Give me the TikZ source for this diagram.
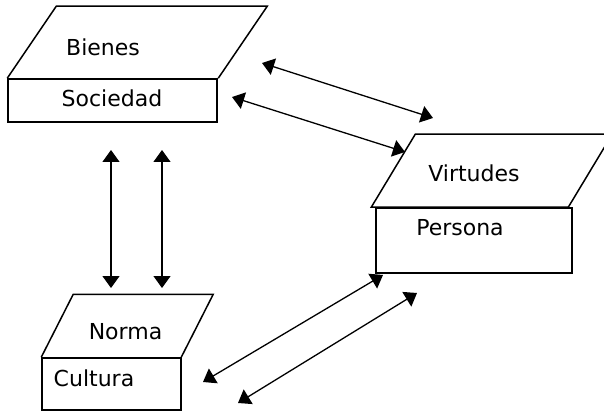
\documentclass[tikz,border=0pt]{standalone}
\usepackage{fontspec}
\setmainfont{DejaVu Sans}
\usetikzlibrary{arrows.meta}

\begin{document}
\begin{tikzpicture}[x=1pt, y=-1pt, every node/.style={font=\fontsize{22}{24}\selectfont},
    box/.style={draw, line width=1.5pt, inner sep=0pt},
    dbl/.style={{Triangle[length=12pt,width=17pt]}-{Triangle[length=12pt,width=17pt]}, line width=1.3pt}]
            \useasboundingbox (0,0) rectangle (604,411);
            % boxes
            \node[box, minimum width=209pt, minimum height=43pt] (soc) at (112.5,100.5) {};
            \node[box, minimum width=196pt, minimum height=65pt] (per) at (474,240.5) {};
            \node[box, minimum width=139pt, minimum height=52pt] (cul) at (111.5,384) {};
            % lids
            \draw[line width=1.5pt] (soc.north west) -- ++(49,-72) -- ++(211,0) -- ++(-49,72);
            \draw[line width=1.5pt] (per.north west) ++(-4,0) -- ++(44,-73) -- ++(197,0) -- ++(-44,73) -- cycle;
            \draw[line width=1.5pt] (cul.north west) -- ++(32,-63) -- ++(140,0) -- ++(-32,63);
            % labels
            \node (bienes) at (103,47) {Bienes};
            \node (sociedad) at (112,98) {Sociedad};
            \node (virtudes) at (474,173) {Virtudes};
            \node (persona) at (460,228) {Persona};
            \node (norma) at (125.5,332) {Norma};
            \node (cultura) at (94,378) {Cultura};
            % arrow ends
            \coordinate (v1a) at (111,150); \coordinate (v1b) at (111,288);
            \coordinate (v2a) at (162,150); \coordinate (v2b) at (162,288);
            \coordinate (d1a) at (262,63);  \coordinate (d1b) at (433,118);
            \coordinate (d2a) at (232,97);  \coordinate (d2b) at (405,152);
            \coordinate (d3a) at (203,382); \coordinate (d3b) at (383,275);
            \coordinate (d4a) at (238,403); \coordinate (d4b) at (417,293);
            \draw[dbl] (v1a) -- (v1b);
            \draw[dbl] (v2a) -- (v2b);
            \draw[dbl] (d1a) -- (d1b);
            \draw[dbl] (d2a) -- (d2b);
            \draw[dbl] (d3a) -- (d3b);
            \draw[dbl] (d4a) -- (d4b);
        \end{tikzpicture}
\end{document}
